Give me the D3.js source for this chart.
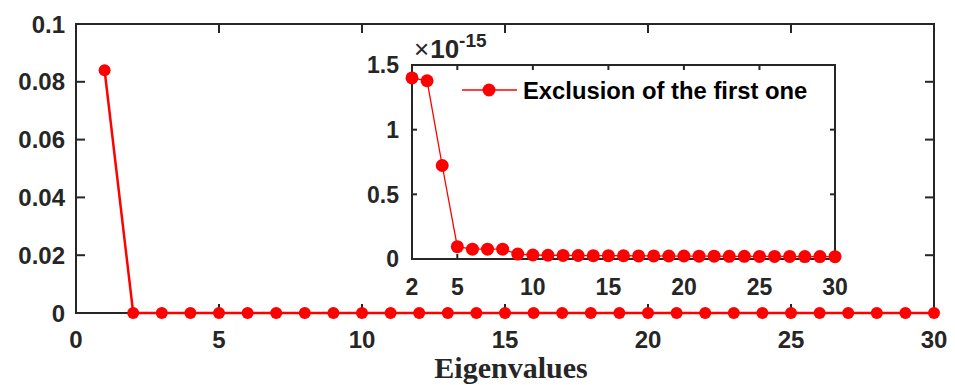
<!DOCTYPE html>
<html><head><meta charset="utf-8">
<script src="https://cdn.jsdelivr.net/npm/d3@7"></script>
<style>
html,body{margin:0;padding:0;background:#fff;}
svg{display:block;}
text{font-family:"Liberation Sans",Arial,sans-serif;font-weight:bold;fill:#262626;}
</style></head>
<body>
<script>
// ---- data ----
const insetX = d3.range(2, 31);
const insetValues = [1.40,1.378,0.723,0.095,0.076,0.076,0.076,0.038,0.031,0.029,0.028,0.027,0.026,0.026,0.025,0.024,0.024,0.023,0.023,0.022,0.022,0.021,0.021,0.020,0.020,0.020,0.019,0.019,0.018]; // ×1e-15
const mainX = d3.range(1, 31);
const mainValues = [0.084].concat(insetValues.map(v => v * 1e-15));
const mainXTicks = [0,5,10,15,20,25,30];
const mainYTicks = [0,0.02,0.04,0.06,0.08,0.1];
const insetXTicks = [2,5,10,15,20,25,30];
const insetYTicks = [0,0.5,1,1.5];
const legendLabel = "Exclusion of the first one";
const xLabel = "Eigenvalues";

const W = 955, H = 385;
const svg = d3.select("body").append("svg").attr("width", W).attr("height", H);
const ink = "#262626", red = "#ff0000";

// ---- main axes ----
const m = {l:76, r:934, t:24, b:313};
const x = d3.scaleLinear().domain([0,30]).range([m.l, m.r]);
const y = d3.scaleLinear().domain([0,0.1]).range([m.b, m.t]);
const tl = 9;

const gm = svg.append("g");
mainXTicks.forEach(t => {
  gm.append("line").attr("x1",x(t)).attr("x2",x(t)).attr("y1",m.b).attr("y2",m.b-tl).attr("stroke",ink).attr("stroke-width",2);
  gm.append("line").attr("x1",x(t)).attr("x2",x(t)).attr("y1",m.t).attr("y2",m.t+tl).attr("stroke",ink).attr("stroke-width",2);
  gm.append("text").attr("x",x(t)).attr("y",348).attr("text-anchor","middle").style("font-size","24px").text(d3.format("d")(t));
});
mainYTicks.forEach(t => {
  gm.append("line").attr("x1",m.l).attr("x2",m.l+tl).attr("y1",y(t)).attr("y2",y(t)).attr("stroke",ink).attr("stroke-width",2);
  gm.append("line").attr("x1",m.r).attr("x2",m.r-tl).attr("y1",y(t)).attr("y2",y(t)).attr("stroke",ink).attr("stroke-width",2);
  gm.append("text").attr("x",65).attr("y",y(t)).attr("dy","0.36em").attr("text-anchor","end").style("font-size","24px").text(t===0?"0":String(t));
});
gm.append("rect").attr("x",m.l).attr("y",m.t).attr("width",m.r-m.l).attr("height",m.b-m.t)
  .attr("fill","none").attr("stroke",ink).attr("stroke-width",2);

gm.append("text").attr("x",511).attr("y",378).attr("text-anchor","middle")
  .style("font-family","'Liberation Serif','Times New Roman',serif").style("font-size","30px").text(xLabel);

const lineMain = d3.line().x((d,i)=>x(mainX[i])).y(d=>y(d));
gm.append("path").datum(mainValues).attr("d",lineMain).attr("fill","none").attr("stroke",red).attr("stroke-width",2.5);
gm.selectAll("circle.mp").data(mainValues).enter().append("circle")
  .attr("cx",(d,i)=>x(mainX[i])).attr("cy",d=>y(d)).attr("r",6).attr("fill",red);

// ---- inset axes ----
const n = {l:412, r:835, t:65, b:259};
const xi = d3.scaleLinear().domain([2,30]).range([n.l, n.r]);
const yi = d3.scaleLinear().domain([0,1.5]).range([n.b, n.t]);
const ti = 5;
const gi = svg.append("g");
gi.append("rect").attr("x",n.l).attr("y",n.t).attr("width",n.r-n.l).attr("height",n.b-n.t).attr("fill","#fff");
insetXTicks.forEach(t => {
  gi.append("line").attr("x1",xi(t)).attr("x2",xi(t)).attr("y1",n.b).attr("y2",n.b-ti).attr("stroke",ink).attr("stroke-width",2);
  gi.append("line").attr("x1",xi(t)).attr("x2",xi(t)).attr("y1",n.t).attr("y2",n.t+ti).attr("stroke",ink).attr("stroke-width",2);
  gi.append("text").attr("x",xi(t)).attr("y",295).attr("text-anchor","middle").style("font-size","23px").text(String(t));
});
insetYTicks.forEach(t => {
  gi.append("line").attr("x1",n.l).attr("x2",n.l+ti).attr("y1",yi(t)).attr("y2",yi(t)).attr("stroke",ink).attr("stroke-width",2);
  gi.append("line").attr("x1",n.r).attr("x2",n.r-ti).attr("y1",yi(t)).attr("y2",yi(t)).attr("stroke",ink).attr("stroke-width",2);
  gi.append("text").attr("x",399).attr("y",yi(t)).attr("dy","0.36em").attr("text-anchor","end").style("font-size","23px").text(String(t));
});
gi.append("rect").attr("x",n.l).attr("y",n.t).attr("width",n.r-n.l).attr("height",n.b-n.t)
  .attr("fill","none").attr("stroke",ink).attr("stroke-width",2);

const exp = gi.append("text").attr("x",414).attr("y",58).style("font-size","26px");
exp.append("tspan").style("font-weight","normal").text("×");
exp.append("tspan").attr("dx",1).text("10");
exp.append("tspan").attr("dy",-11).style("font-size","19px").text("-15");

const lineIn = d3.line().x((d,i)=>xi(insetX[i])).y(d=>yi(d));
gi.append("path").datum(insetValues).attr("d",lineIn).attr("fill","none").attr("stroke",red).attr("stroke-width",1.3);
gi.selectAll("circle.ip").data(insetValues).enter().append("circle")
  .attr("cx",(d,i)=>xi(insetX[i])).attr("cy",d=>yi(d)).attr("r",6.5).attr("fill",red);

// legend
gi.append("line").attr("x1",462).attr("x2",517).attr("y1",90).attr("y2",90).attr("stroke",red).attr("stroke-width",1.3);
gi.append("circle").attr("cx",489).attr("cy",90).attr("r",6.5).attr("fill",red);
gi.append("text").attr("x",523).attr("y",90).attr("dy","0.36em").style("font-size","23.8px").style("fill","#000").text(legendLabel);
</script>
</body></html>
